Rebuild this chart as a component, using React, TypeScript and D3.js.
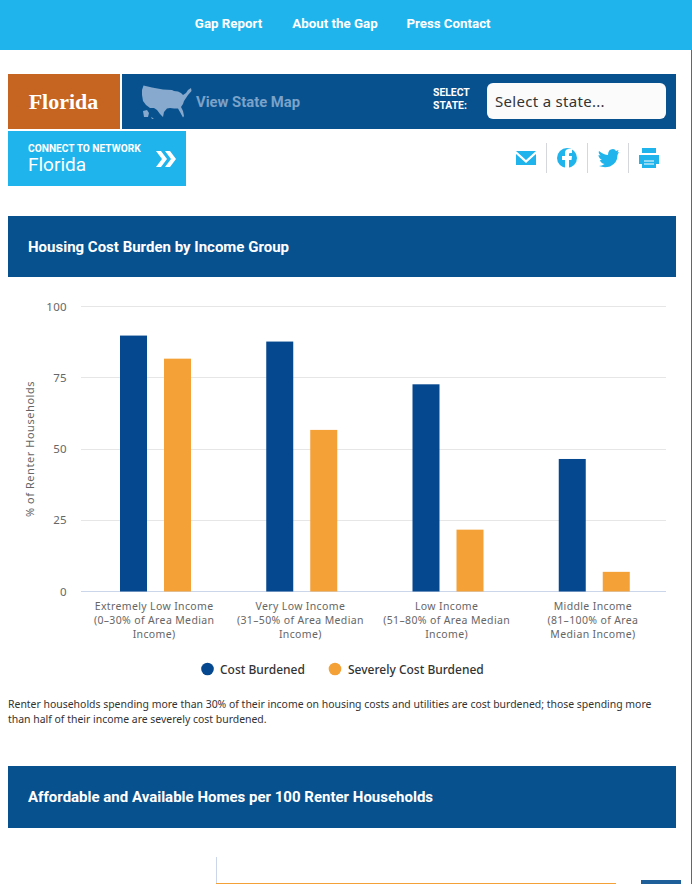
import React from "react";
import * as d3 from "d3";

const categories = [
  ["Extremely Low Income", "(0–30% of Area Median", "Income)"],
  ["Very Low Income", "(31–50% of Area Median", "Income)"],
  ["Low Income", "(51–80% of Area Median", "Income)"],
  ["Middle Income", "(81–100% of Area", "Median Income)"],
];
const categoryKeys = ["elow", "vlow", "low", "mid"];
const costBurdened = [89.8, 87.7, 72.7, 46.5];
const severelyBurdened = [81.7, 56.7, 21.7, 6.9];
const yTicks = [0, 25, 50, 75, 100];
const navItems = [
  { label: "Gap Report", x: 228.5 },
  { label: "About the Gap", x: 335 },
  { label: "Press Contact", x: 448.5 },
];

const SANS = "'Noto Sans', 'Open Sans', sans-serif";
const COND = "Roboto, sans-serif";
const BLUE = "#07518f";
const SKY = "#20b4ec";
const NAVY = "#064890";
const ORANGE = "#f4a137";

const x0 = d3.scaleBand<string>().domain(categoryKeys).range([81, 666]);
const y = d3.scaleLinear().domain([0, 100]).range([591.5, 306.5]);

const usPath =
  "M143.5,85.5 L152,87.5 L163,89.5 L172,90 L174,91 L178,91.5 L181,93 L183,95 L186,93 L188,90 L191,88 L191.5,91 L188,95 L186,98 L184,101 L183,104 L181,107 L183,111 L184,116 L183,117.5 L180,112 L178,108.5 L174,108.5 L170,108 L167,108.5 L164,112 L163,117 L160,114 L157,110 L154,108 L150,108 L146,105 L143,101 L142,95 L142,90 Z M143,111 L147,110 L149,113 L148,117 L144,117 Z M151,117 L154,118.5 L152,119 Z";

const Btxt = (p: any) => <text fontFamily={COND} fontWeight={700} fill="#fff" {...p} />;

export default function App() {
  return (
    <svg
      width={692}
      height={884}
      style={{ position: "absolute", left: 0, top: 0, background: "#fff" }}
    >
      {/* top nav */}
      <rect x={0} y={0} width={692} height={50} fill={SKY} />
      {navItems.map((n) => (
        <Btxt key={n.label} x={n.x} y={28} fontSize={13.3} textAnchor="middle">
          {n.label}
        </Btxt>
      ))}
      <line x1={691.5} x2={691.5} y1={50} y2={884} stroke="#666" strokeWidth={1} />

      {/* state bar */}
      <rect x={8} y={74} width={112} height={55} fill="#c66421" />
      <text x={63.5} y={108.5} fontFamily="'Liberation Serif', serif" fontWeight={700} fontSize={22} fill="#fff" textAnchor="middle">
        Florida
      </text>
      <rect x={122} y={74} width={554} height={55} fill={BLUE} />
      <path d={usPath} fill="#86a9cd" />
      <text x={196} y={106.5} fontFamily={COND} fontWeight={700} fontSize={14.8} fill="#7ba2c8">
        View State Map
      </text>
      <Btxt x={433} y={96} fontSize={10.4}>SELECT</Btxt>
      <Btxt x={433} y={109} fontSize={10.4}>STATE:</Btxt>
      <rect x={487} y={83} width={179} height={36} rx={6} fill="#fbfbfb" />
      <text x={495} y={107} fontFamily={SANS} fontSize={15} letterSpacing={0.3} fill="#333">
        Select a state...
      </text>

      {/* connect */}
      <rect x={8} y={131} width={178} height={55} fill={SKY} />
      <Btxt x={28} y={151.5} fontSize={10.2}>CONNECT TO NETWORK</Btxt>
      <text x={28} y={171} fontFamily={COND} fontWeight={400} fontSize={19} fill="#fff">Florida</text>
      <path d="M156,151 L161,151 L167,159 L161,167 L156,167 L162,159 Z M167,151 L170,151 L176,159 L170,167 L165,167 L171,159 L165,151 Z" fill="#fff" />

      {/* share icons */}
      <path d="M516,151 L536,151 L526,160 Z M516,154 L526,163 L536,154 L536,165 L516,165 Z" fill={SKY} />
      <line x1={546.5} x2={546.5} y1={143} y2={173} stroke="#d4d8dc" />
      <circle cx={567} cy={158} r={10} fill={SKY} />
      <path d="M565,168 L565,160 L562,160 L562,156 L565,156 L565,153 Q565,149 569,149 L572,149 L572,153 L570,153 Q569,153 569,154 L569,156 L572,156 L571.5,160 L569,160 L569,168 Z" fill="#fff" />
      <line x1={587.5} x2={587.5} y1={143} y2={173} stroke="#d4d8dc" />
      <path d="M599,151 Q604,155 608,155 Q608,149 613,149 Q615,149 616,151 L618.5,150 L617.5,152.5 L619,152 L617.5,155 Q617.5,163 610,166.5 Q604,168 599,166 Q602,166 604.5,164 Q600.5,163 600,160 L602,160 Q598.5,158 598.5,155 L600.5,155.5 Q598,153 599,151 Z" fill={SKY} />
      <line x1={628.5} x2={628.5} y1={143} y2={173} stroke="#d4d8dc" />
      <path d="M642,148 L656,148 L656,153 L642,153 Z M639,155 L659,155 L659,164 L656,164 L656,168 L642,168 L642,164 L639,164 Z" fill={SKY} />
      <path d="M644,161 L654,161 M644,164 L654,164" stroke="#fff" strokeWidth={1} />

      {/* section 1 */}
      <rect x={8} y={216} width={668} height={61} fill={BLUE} />
      <Btxt x={28} y={251.5} fontSize={15}>Housing Cost Burden by Income Group</Btxt>

      {/* gridlines */}
      {yTicks.map((t) => (
        <g key={t}>
          <line
            x1={81}
            x2={666}
            y1={Math.floor(y(t)) + 0.5}
            y2={Math.floor(y(t)) + 0.5}
            stroke={t === 0 ? "#ccd6eb" : "#e6e6e6"}
          />
          <text x={67} y={y(t) + 4} textAnchor="end" fontFamily={SANS} fontSize={11.5} letterSpacing={0.3} fill="#666">
            {t}
          </text>
        </g>
      ))}
      <text
        transform={`translate(34,${y(50)}) rotate(-90)`}
        textAnchor="middle"
        fontFamily={SANS}
        fontSize={11}
        letterSpacing={0.55}
        fill="#666"
      >
        % of Renter Households
      </text>

      {/* bars */}
      {categoryKeys.map((k, i) => {
        const left = x0(k)! + 39;
        return (
          <g key={k}>
            <rect x={left} y={y(costBurdened[i])} width={27} height={y(0) - y(costBurdened[i])} fill={NAVY} />
            <rect x={left + 44} y={y(severelyBurdened[i])} width={27} height={y(0) - y(severelyBurdened[i])} fill={ORANGE} />
            {categories[i].map((line, j) => (
              <text
                key={j}
                x={x0(k)! + x0.bandwidth() / 2}
                y={610 + j * 14}
                textAnchor="middle"
                fontFamily={SANS}
                fontSize={10.5}
                letterSpacing={0.36}
                fill="#666"
              >
                {line}
              </text>
            ))}
          </g>
        );
      })}

      {/* legend */}
      <circle cx={207.5} cy={669} r={6.3} fill={NAVY} />
      <text x={220} y={674} fontFamily={SANS} fontWeight={500} fontSize={12} fill="#333">Cost Burdened</text>
      <circle cx={335} cy={669} r={6.3} fill={ORANGE} />
      <text x={348} y={674} fontFamily={SANS} fontWeight={500} fontSize={12} fill="#333">Severely Cost Burdened</text>

      {/* note */}
      <text x={8} y={708} fontFamily={SANS} fontSize={10.45} fill="#333">
        Renter households spending more than 30% of their income on housing costs and utilities are cost burdened; those spending more
      </text>
      <text x={8} y={723} fontFamily={SANS} fontSize={10.45} fill="#333">
        than half of their income are severely cost burdened.
      </text>

      {/* section 2 */}
      <rect x={8} y={766} width={668} height={62} fill={BLUE} />
      <Btxt x={28} y={802} fontSize={15}>Affordable and Available Homes per 100 Renter Households</Btxt>

      {/* next chart, cut off */}
      <line x1={216.5} x2={216.5} y1={857} y2={884} stroke="#ccd6eb" />
      <rect x={216} y={883} width={400} height={1} fill={ORANGE} />
      <rect x={641} y={880} width={40} height={4} fill="#1f5f99" />
    </svg>
  );
}
